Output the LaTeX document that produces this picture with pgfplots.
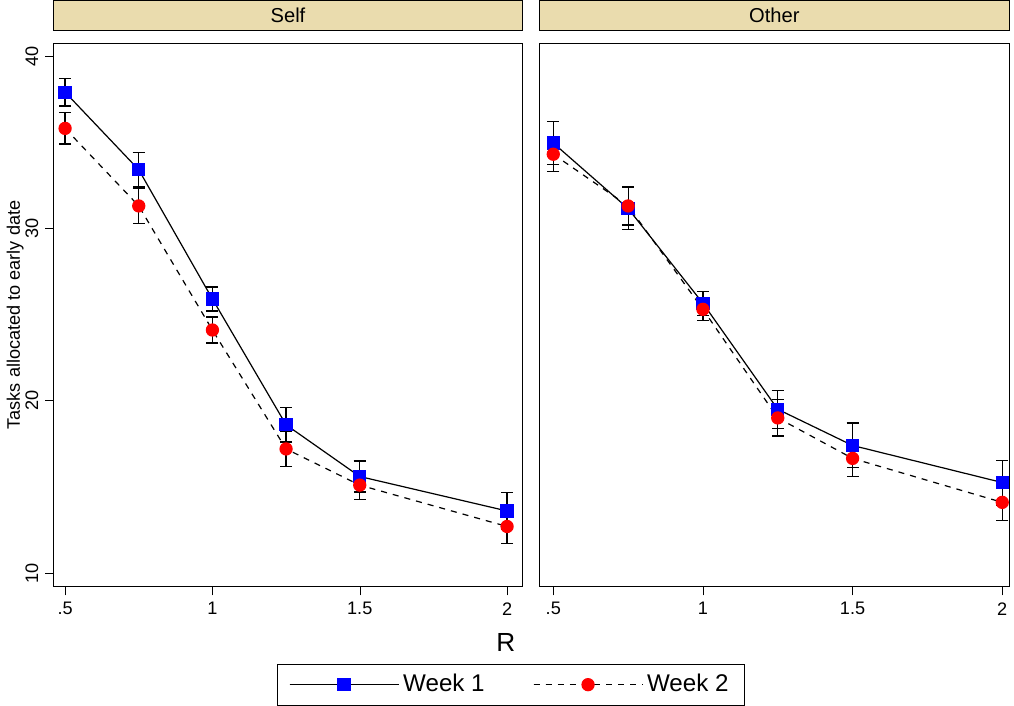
\documentclass[border=0pt]{standalone}
\usepackage{pgfplots}
\pgfplotsset{compat=1.18}
\usepackage{fontspec}
\setmainfont{Liberation Sans}
\definecolor{strip}{RGB}{234,220,174}
\begin{document}
\begin{tikzpicture}
\pgfplotsset{
  every axis/.append style={
    scale only axis, height=270pt, ymin=9.2, ymax=40.75,
    xtick={0.5,1,1.5,2}, xticklabels={.5,1,1.5,2},
    xtick pos=bottom, ytick pos=left,
    tick align=outside, tick style={black}, axis line style={black},
    /pgf/number format/assume math mode=true,
    tick label style={font=\fontsize{9}{10}\selectfont},
    title style={at={(0.5,1)}, anchor=south, fill=strip, draw=black, minimum width=\pgfkeysvalueof{/pgfplots/width}, minimum height=15pt, inner sep=0pt, font=\fontsize{10}{11}\selectfont},
    error bars/error bar style={black, solid, semithick},
    error bars/error mark options={black, rotate=90, mark size=3pt, semithick},
  },
  w1/.style={black, solid, semithick, mark=square*, mark options={blue, draw=blue, solid}, mark size=3pt,
    error bars/.cd, y dir=both, y explicit},
  w2/.style={black, dashed, semithick, mark=*, mark options={red, draw=red, solid}, mark size=3pt,
    error bars/.cd, y dir=both, y explicit},
}
\begin{axis}[name=left, at={(0,0)}, width=232.5pt, xmin=0.462, xmax=2.051,
  title={Self},
  ytick={10,20,30,40}, yticklabel style={rotate=90, anchor=south},
  ylabel={Tasks allocated to early date}, ylabel style={font=\fontsize{9}{10}\selectfont, yshift=-6pt},
  xlabel={R}, xlabel style={font=\fontsize{13}{14}\selectfont, at={(ticklabel cs:0.965)}, anchor=north, yshift=-2pt},
  legend columns=2,
  legend style={at={(rel axis cs:0.976,-0.18)}, anchor=center, draw=black, font=\fontsize{12}{13}\selectfont,
    inner xsep=6pt, inner ysep=3pt,
    /tikz/every even column/.append style={column sep=22pt}},
  legend image code/.code={\draw[#1, mark=none] (0cm,0cm) -- (1.9cm,0cm); \draw[#1, mark repeat=2, mark phase=2] plot coordinates {(0cm,0cm) (0.95cm,0cm) (1.9cm,0cm)};},
]
\addplot+[w1] coordinates {(0.5,37.9)+-(0,0.8) (0.75,33.4)+-(0,1.0) (1,25.9)+-(0,0.7) (1.25,18.6)+-(0,1.0) (1.5,15.6)+-(0,0.9) (2,13.6)+-(0,1.05)};
\addlegendentry{Week 1}
\addplot+[w2] coordinates {(0.5,35.8)+-(0,0.9) (0.75,31.3)+-(0,1.0) (1,24.1)+-(0,0.75) (1.25,17.2)+-(0,1.0) (1.5,15.1)+-(0,0.85) (2,12.7)+-(0,1.0)};
\addlegendentry{Week 2}
\end{axis}
\begin{axis}[at={(241pt,0)}, width=233.5pt, xmin=0.453, xmax=2.024,
  title={Other}, ytick=\empty]
\addplot+[w1] coordinates {(0.5,34.95)+-(0,1.25) (0.75,31.15)+-(0,1.2) (1,25.65)+-(0,0.7) (1.25,19.5)+-(0,1.1) (1.5,17.4)+-(0,1.3) (2,15.25)+-(0,1.3)};
\addplot+[w2] coordinates {(0.5,34.3)+-(0,1.0) (0.75,31.3)+-(0,1.1) (1,25.3)+-(0,0.65) (1.25,19.0)+-(0,1.05) (1.5,16.65)+-(0,1.05) (2,14.1)+-(0,1.05)};
\end{axis}
\end{tikzpicture}
\end{document}
